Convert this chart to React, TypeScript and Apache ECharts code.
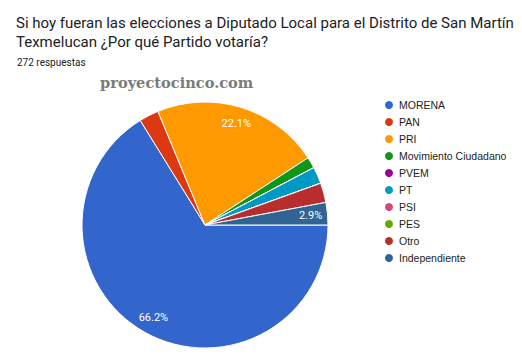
import React, { useEffect, useRef } from "react";
import * as echarts from "echarts";

const titleLines = [
  "Si hoy fueran las elecciones a Diputado Local para el Distrito de San Martín",
  "Texmelucan ¿Por qué Partido votaría?",
];
const subtitle = "272 respuestas";
const watermark = "proyectocinco.com";

const categories = [
  "MORENA",
  "PAN",
  "PRI",
  "Movimiento Ciudadano",
  "PVEM",
  "PT",
  "PSI",
  "PES",
  "Otro",
  "Independiente",
];
const votes = [180, 7, 60, 4, 0, 6, 0, 0, 7, 8];
const colors = [
  "#3366cc",
  "#dc3912",
  "#ff9900",
  "#109618",
  "#990099",
  "#0099c6",
  "#dd4477",
  "#66aa00",
  "#b82e2e",
  "#316395",
];
const labelled = ["MORENA", "PRI", "Independiente"];

export default function App() {
  const ref = useRef<HTMLDivElement>(null);
  useEffect(() => {
    if (!ref.current) return;
    const chart = echarts.init(ref.current, undefined, { renderer: "svg" });
    const total = votes.reduce((a, b) => a + b, 0);
    const mainData = categories.map((name, i) => ({
      name,
      value: votes[i],
      itemStyle: { color: colors[i] },
    }));
    const labelData = categories.map((name, i) => ({
      name,
      value: votes[i],
      label: { show: labelled.includes(name) },
    }));
    const titleStyle = {
      fontFamily: "Roboto",
      fontSize: 15,
      fontWeight: "normal",
      color: "#202124",
    };
    chart.setOption({
      animation: false,
      backgroundColor: "#ffffff",
      title: [
        {
          text: titleLines[0],
          left: 11,
          top: 10,
          textStyle: titleStyle,
        },
        {
          text: titleLines[1],
          left: 11,
          top: 29,
          textStyle: titleStyle,
        },
        {
          text: subtitle,
          left: 12,
          top: 52,
          textStyle: {
            fontFamily: "Roboto",
            fontSize: 10,
            fontWeight: "normal",
            color: "#202124",
          },
        },
      ],
      graphic: [
        {
          type: "text",
          left: 100,
          top: 75,
          style: {
            text: watermark,
            fontFamily: "DejaVu Serif",
            fontWeight: "bold",
            fontSize: 14.6,
            fill: "#7a7a7a",
          },
        },
      ],
      legend: {
        orient: "vertical",
        left: 378,
        top: 94,
        icon: "circle",
        itemWidth: 10,
        itemHeight: 10,
        itemGap: 5,
        data: categories.map((name, i) => ({
          name,
          itemStyle: { color: colors[i] },
        })),
        textStyle: {
          fontFamily: "Liberation Sans",
          fontSize: 10.5,
          color: "#222222",
        },
      },
      series: [
        {
          type: "pie",
          center: [205, 225],
          radius: [0, 123],
          startAngle: 0,
          clockwise: true,
          avoidLabelOverlap: false,
          label: { show: false },
          labelLine: { show: false },
          itemStyle: { borderColor: "#ffffff", borderWidth: 1 },
          emphasis: { disabled: true },
          data: mainData,
        },
        {
          type: "pie",
          center: [205, 225],
          radius: [84, 122],
          startAngle: 0,
          clockwise: true,
          silent: true,
          z: 5,
          avoidLabelOverlap: false,
          itemStyle: { color: "rgba(0,0,0,0)" },
          labelLine: { show: false },
          label: {
            position: "inside",
            color: "#ffffff",
            fontFamily: "Roboto",
            fontSize: 11,
            formatter: (p: any) =>
              ((p.value / total) * 100).toFixed(1) + "%",
          },
          emphasis: { disabled: true },
          data: labelData,
        },
      ],
    });
    return () => chart.dispose();
  }, []);
  return (
    <div
      ref={ref}
      style={{ position: "absolute", left: 0, top: 0, width: 522, height: 354 }}
    />
  );
}
